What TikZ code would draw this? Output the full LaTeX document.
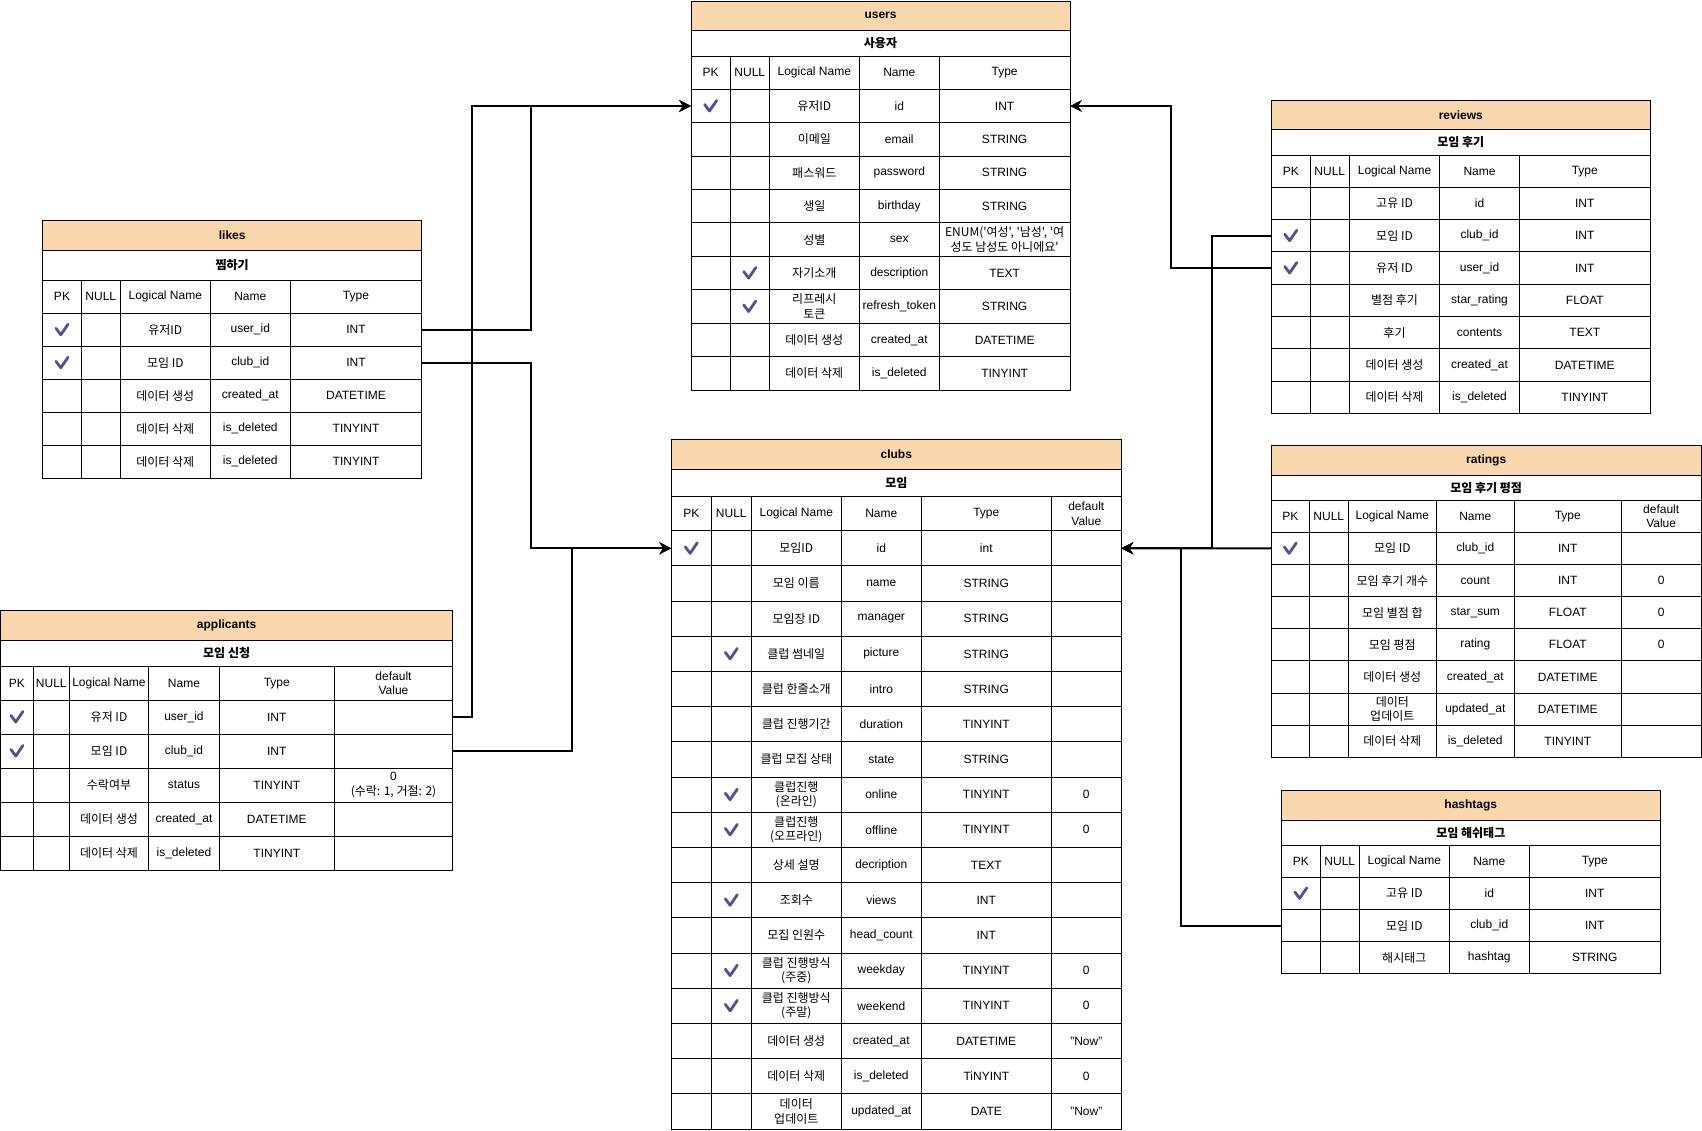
\documentclass[tikz,border=0pt]{standalone}
\usepackage{fontspec}
\setmainfont{Liberation Sans}
\newfontfamily\kr{Noto Sans CJK KR}[Ligatures=TeXOff]
\usetikzlibrary{arrows.meta}
\definecolor{hdr}{HTML}{FAD7AC}
\definecolor{chkc}{RGB}{88,78,150}
\tikzset{
  grid/.style={draw=black, line width=1pt},
  cell/.style={inner sep=0pt, align=center, font=\fontsize{12}{14.5}\selectfont},
  krcell/.style={inner sep=0pt, align=center, font=\kr\fontsize{12}{14.5}\selectfont},
  ttl/.style={inner sep=0pt, font=\bfseries\fontsize{12}{14}\selectfont},
  krttl/.style={inner sep=0pt, font=\kr\bfseries\fontsize{12}{14}\selectfont},
  conn/.style={draw=black, line width=2pt},
  arr/.style={conn, -{Stealth[length=12pt,width=12pt,inset=4pt]}},
  chk/.pic={\draw[chkc, line width=2.8pt, line cap=round, line join=round] (-6,-1.5) -- (-1.2,5) -- (6,-5.5);}
}
\newcommand\tdims[8]{\def\xa{#1}\def\xR{#2}\def\yT{#3}\def\yA{#4}\def\yB{#5}\def\yC{#6}\def\yEnd{#7}\def\nrows{#8}}
\newcommand\tcols[5]{\def\xb{#1}\def\xc{#2}\def\xd{#3}\def\xe{#4}\def\xf{#5}}
\newcommand\drawframe[3]{%
  \pgfmathsetmacro\rh{(\yEnd-\yC)/\nrows}%
  \fill[hdr] (\xa,\yT) rectangle (\xR,\yA);
  \draw[grid] (\xa,\yT) rectangle (\xR,\yEnd);
  \draw[grid] (\xa,\yA) -- (\xR,\yA);
  \draw[grid] (\xa,\yB) -- (\xR,\yB);
  \foreach \i in {1,...,\nrows}{\pgfmathsetmacro\yy{\yC+(\i-1)*\rh}\draw[grid] (\xa,\yy) -- (\xR,\yy);}
  \foreach \x in {\xb,\xc,\xd,\xe}{\draw[grid] (\x,\yB) -- (\x,\yEnd);}
  \ifx\xf\empty\else\draw[grid] (\xf,\yB) -- (\xf,\yEnd);\fi
  \node[ttl] (#1-title) at ({(\xa+\xR)/2},{(\yT+\yA)/2}) {#2};
  \node[krttl] (#1-sub) at ({(\xa+\xR)/2},{(\yA+\yB)/2}) {#3};
  \pgfmathsetmacro\yh{(\yB+\yC)/2}%
  \node[cell] (#1-hpk) at ({(\xa+\xb)/2},\yh) {PK};
  \node[cell] (#1-hnull) at ({(\xb+\xc)/2},\yh) {NULL};
  \node[cell] (#1-hlog) at ({(\xc+\xd)/2},\yh) {Logical Name};
  \node[cell] (#1-hname) at ({(\xd+\xe)/2},\yh) {Name};
  \ifx\xf\empty
    \node[cell] (#1-htype) at ({(\xe+\xR)/2},\yh) {Type};
  \else
    \node[cell] (#1-htype) at ({(\xe+\xf)/2},\yh) {Type};
    \node[cell] (#1-hdef) at ({(\xf+\xR)/2},\yh) {default\\Value};
  \fi
}
\newcommand\erow[8]{%
  \pgfmathsetmacro\yy{\yC+(#2-0.5)*\rh}%
  \coordinate (#1-r#2-L) at (\xa,\yy);
  \coordinate (#1-r#2-R) at (\xR,\yy);
  \ifnum#3=1 \pic (#1-r#2-pk) at ({(\xa+\xb)/2},\yy) {chk};\fi
  \ifnum#4=1 \pic (#1-r#2-nl) at ({(\xb+\xc)/2},\yy) {chk};\fi
  \node[krcell] (#1-r#2-lg) at ({(\xc+\xd)/2},\yy) {#5};
  \node[cell] (#1-r#2-nm) at ({(\xd+\xe)/2},\yy) {#6};
  \ifx\xf\empty
    \node[cell] (#1-r#2-ty) at ({(\xe+\xR)/2},\yy) {#7};
  \else
    \node[cell] (#1-r#2-ty) at ({(\xe+\xf)/2},\yy) {#7};
    \node[cell] (#1-r#2-df) at ({(\xf+\xR)/2},\yy) {#8};
  \fi
}
\begin{document}
\begin{tikzpicture}[x=1pt,y=-1pt]
\useasboundingbox (0,0) rectangle (1702,1130);
\fill[white] (0,0) rectangle (1702,1130);

% users
\tdims{691}{1070}{1}{30}{56.3}{89.3}{390}{9}
\tcols{730.3}{769.3}{859.3}{939.3}{}
\drawframe{users}{users}{사용자}
\erow{users}{1}{1}{0}{유저ID}{id}{INT}{}
\erow{users}{2}{0}{0}{이메일}{email}{STRING}{}
\erow{users}{3}{0}{0}{패스워드}{password}{STRING}{}
\erow{users}{4}{0}{0}{생일}{birthday}{STRING}{}
\erow{users}{5}{0}{0}{성별}{sex}{\kr ENUM('여성', '남성', '여\\\kr 성도 남성도 아니에요'}{}
\erow{users}{6}{0}{1}{자기소개}{description}{TEXT}{}
\erow{users}{7}{0}{1}{리프레시\\토큰}{refresh\_token}{STRING}{}
\erow{users}{8}{0}{0}{데이터 생성}{created\_at}{DATETIME}{}
\erow{users}{9}{0}{0}{데이터 삭제}{is\_deleted}{TINYINT}{}

% likes
\tdims{42.7}{421.7}{220}{250.3}{280.3}{313.3}{478.3}{5}
\tcols{81.3}{120.3}{210.3}{290.3}{}
\drawframe{likes}{likes}{찜하기}
\erow{likes}{1}{1}{0}{유저ID}{user\_id}{INT}{}
\erow{likes}{2}{1}{0}{모임 ID}{club\_id}{INT}{}
\erow{likes}{3}{0}{0}{데이터 생성}{created\_at}{DATETIME}{}
\erow{likes}{4}{0}{0}{데이터 삭제}{is\_deleted}{TINYINT}{}
\erow{likes}{5}{0}{0}{데이터 삭제}{is\_deleted}{TINYINT}{}

% applicants
\tdims{0.6}{452.7}{610}{640.3}{666.3}{700}{870}{5}
\tcols{33.3}{69.3}{148.7}{219.3}{334.3}
\drawframe{applicants}{applicants}{모임 신청}
\erow{applicants}{1}{1}{0}{유저 ID}{user\_id}{INT}{}
\erow{applicants}{2}{1}{0}{모임 ID}{club\_id}{INT}{}
\erow{applicants}{3}{0}{0}{수락여부}{status}{TINYINT}{0\\\kr (수락: 1, 거절: 2)}
\erow{applicants}{4}{0}{0}{데이터 생성}{created\_at}{DATETIME}{}
\erow{applicants}{5}{0}{0}{데이터 삭제}{is\_deleted}{TINYINT}{}

% clubs
\tdims{671.3}{1121.3}{439.3}{469.3}{496.3}{530.7}{1129}{17}
\tcols{711.3}{751.3}{841.3}{921.3}{1051.3}
\drawframe{clubs}{clubs}{모임}
\erow{clubs}{1}{1}{0}{모임ID}{id}{int}{}
\erow{clubs}{2}{0}{0}{모임 이름}{name}{STRING}{}
\erow{clubs}{3}{0}{0}{모임장 ID}{manager}{STRING}{}
\erow{clubs}{4}{0}{1}{클럽 썸네일}{picture}{STRING}{}
\erow{clubs}{5}{0}{0}{클럽 한줄소개}{intro}{STRING}{}
\erow{clubs}{6}{0}{0}{클럽 진행기간}{duration}{TINYINT}{}
\erow{clubs}{7}{0}{0}{클럽 모집 상태}{state}{STRING}{}
\erow{clubs}{8}{0}{1}{클럽진행\\(온라인)}{online}{TINYINT}{0}
\erow{clubs}{9}{0}{1}{클럽진행\\(오프라인)}{offline}{TINYINT}{0}
\erow{clubs}{10}{0}{0}{상세 설명}{decription}{TEXT}{}
\erow{clubs}{11}{0}{1}{조회수}{views}{INT}{}
\erow{clubs}{12}{0}{0}{모집 인원수}{head\_count}{INT}{}
\erow{clubs}{13}{0}{1}{클럽 진행방식\\(주중)}{weekday}{TINYINT}{0}
\erow{clubs}{14}{0}{1}{클럽 진행방식\\(주말)}{weekend}{TINYINT}{0}
\erow{clubs}{15}{0}{0}{데이터 생성}{created\_at}{DATETIME}{"Now"}
\erow{clubs}{16}{0}{0}{데이터 삭제}{is\_deleted}{TiNYINT}{0}
\erow{clubs}{17}{0}{0}{데이터\\업데이트}{updated\_at}{DATE}{"Now"}

% reviews
\tdims{1271.3}{1650.3}{100}{129.7}{155.3}{187.3}{413.3}{7}
\tcols{1310.3}{1349.3}{1439.7}{1519.3}{}
\drawframe{reviews}{reviews}{모임 후기}
\erow{reviews}{1}{0}{0}{고유 ID}{id}{INT}{}
\erow{reviews}{2}{1}{0}{모임 ID}{club\_id}{INT}{}
\erow{reviews}{3}{1}{0}{유저 ID}{user\_id}{INT}{}
\erow{reviews}{4}{0}{0}{별점 후기}{star\_rating}{FLOAT}{}
\erow{reviews}{5}{0}{0}{후기}{contents}{TEXT}{}
\erow{reviews}{6}{0}{0}{데이터 생성}{created\_at}{DATETIME}{}
\erow{reviews}{7}{0}{0}{데이터 삭제}{is\_deleted}{TINYINT}{}

% ratings
\tdims{1271.3}{1701}{445.7}{475.3}{500.3}{532.3}{757.3}{7}
\tcols{1309.3}{1348.3}{1436.3}{1514.3}{1621.3}
\drawframe{ratings}{ratings}{모임 후기 평점}
\erow{ratings}{1}{1}{0}{모임 ID}{club\_id}{INT}{}
\erow{ratings}{2}{0}{0}{모임 후기 개수}{count}{INT}{0}
\erow{ratings}{3}{0}{0}{모임 별점 합}{star\_sum}{FLOAT}{0}
\erow{ratings}{4}{0}{0}{모임 평점}{rating}{FLOAT}{0}
\erow{ratings}{5}{0}{0}{데이터 생성}{created\_at}{DATETIME}{}
\erow{ratings}{6}{0}{0}{데이터\\업데이트}{updated\_at}{DATETIME}{}
\erow{ratings}{7}{0}{0}{데이터 삭제}{is\_deleted}{TINYINT}{}

% hashtags
\tdims{1281.3}{1660.3}{790}{820.3}{845.3}{877.3}{973.7}{3}
\tcols{1320.3}{1359.3}{1449.3}{1529.3}{}
\drawframe{hashtags}{hashtags}{모임 해쉬태그}
\erow{hashtags}{1}{1}{0}{고유 ID}{id}{INT}{}
\erow{hashtags}{2}{0}{0}{모임 ID}{club\_id}{INT}{}
\erow{hashtags}{3}{0}{0}{해시태그}{hashtag}{STRING}{}

% connector bend lines
\coordinate (jA) at (531.3,0);
\coordinate (jB) at (471.7,0);
\coordinate (jC) at (571.7,0);
\coordinate (jD) at (1171.3,0);
\coordinate (jE) at (1211.7,0);
\coordinate (jF) at (1181.3,0);

\draw[arr] (likes-r1-R) -| (jA |- users-r1-L) -- (users-r1-L);
\draw[arr] (applicants-r1-R) -| (jB |- users-r1-L) -- (users-r1-L);
\draw[arr] (likes-r2-R) -| (jA |- clubs-r1-L) -- (clubs-r1-L);
\draw[arr] (applicants-r2-R) -| (jC |- clubs-r1-L) -- (clubs-r1-L);
\draw[arr] (reviews-r3-L) -| (jD |- users-r1-R) -- (users-r1-R);
\draw[arr] (reviews-r2-L) -| (jE |- clubs-r1-R) -- (clubs-r1-R);
\draw[arr] (ratings-r1-L) -- (clubs-r1-R);
\draw[arr] (hashtags-r2-L) -| (jF |- clubs-r1-R) -- (clubs-r1-R);
\end{tikzpicture}
\end{document}
